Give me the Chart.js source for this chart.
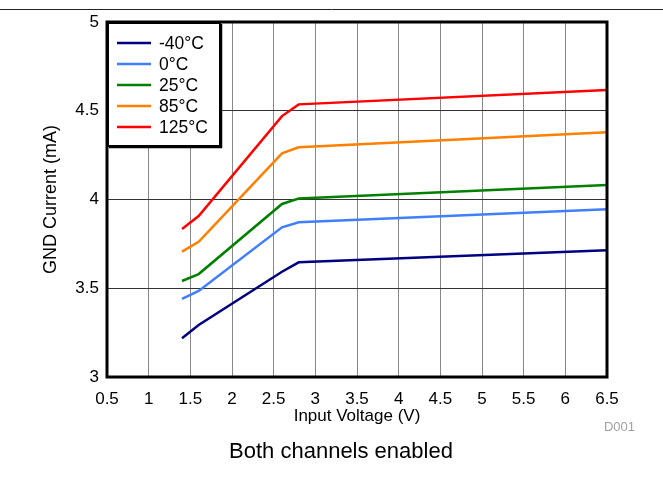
<!DOCTYPE html>
<html><head><meta charset="utf-8">
<script src="https://cdn.jsdelivr.net/npm/chart.js@4.4.1/dist/chart.umd.min.js"></script>
<style>html,body{margin:0;padding:0;background:#fff}#wrap{width:663px;height:489px;position:relative}</style>
</head><body><div id="wrap"><canvas id="c" width="663" height="489"></canvas></div>
<script>
const voltages = [1.4, 1.6, 2.6, 2.8, 6.5];
const seriesLabels = ['-40\u00B0C', '0\u00B0C', '25\u00B0C', '85\u00B0C', '125\u00B0C'];
const curM40 = [3.218, 3.293, 3.593, 3.646, 3.714];
const cur0 = [3.44, 3.485, 3.843, 3.872, 3.945];
const cur25 = [3.541, 3.58, 3.975, 4.005, 4.082];
const cur85 = [3.706, 3.762, 4.26, 4.294, 4.379];
const cur125 = [3.834, 3.907, 4.47, 4.536, 4.617];
const xTicks = [0.5, 1, 1.5, 2, 2.5, 3, 3.5, 4, 4.5, 5, 5.5, 6, 6.5];
const yTicks = [3, 3.5, 4, 4.5, 5];
const colors = ['#000080', '#3F7FFF', '#008000', '#FF7F00', '#FF0000'];
const allSeries = [curM40, cur0, cur25, cur85, cur125];

const FONT = "Arial, 'Liberation Sans', sans-serif";

const datasets = allSeries.map((s, i) => ({
  label: seriesLabels[i],
  data: voltages.map((v, j) => ({x: v, y: s[j]})),
  borderColor: colors[i],
  backgroundColor: colors[i],
  borderWidth: 2.5,
  pointRadius: 0,
  tension: 0,
  fill: false
}));

const deco = {
  id: 'deco',
  afterDraw(chart) {
    const ctx = chart.ctx;
    const a = chart.chartArea;
    ctx.save();
    // top rule
    ctx.strokeStyle = '#222';
    ctx.lineWidth = 1;
    ctx.beginPath(); ctx.moveTo(0, 9.5); ctx.lineTo(663, 9.5); ctx.stroke();
    // frame
    ctx.strokeStyle = '#000';
    ctx.lineWidth = 3;
    ctx.strokeRect(a.left, a.top, a.right - a.left, a.bottom - a.top);
    // legend box
    const lx = a.left, ly = a.top, lw = 113, lh = 124;
    ctx.fillStyle = '#fff';
    ctx.fillRect(lx, ly, lw, lh);
    ctx.lineWidth = 2;
    ctx.strokeStyle = '#000';
    ctx.strokeRect(lx + 1, ly + 1, lw - 1, lh - 1);
    ctx.lineWidth = 1.5;
    ctx.beginPath(); ctx.moveTo(lx + lw + 1.5, ly + 2); ctx.lineTo(lx + lw + 1.5, ly + lh + 1.5); ctx.lineTo(lx + 2, ly + lh + 1.5); ctx.stroke();
    ctx.font = '17.5px ' + FONT;
    ctx.textBaseline = 'middle';
    ctx.textAlign = 'left';
    seriesLabels.forEach((lab, i) => {
      const y = ly + 21 + i * 21;
      ctx.strokeStyle = colors[i];
      ctx.lineWidth = 2.5;
      ctx.beginPath(); ctx.moveTo(lx + 10, y); ctx.lineTo(lx + 44, y); ctx.stroke();
      ctx.fillStyle = '#000';
      ctx.fillText(lab, lx + 52, y + 1);
    });
    // D001
    ctx.fillStyle = '#a0a0a0';
    ctx.font = '13px ' + FONT;
    ctx.textAlign = 'right';
    ctx.fillText('D001', 635, 427);
    // caption
    ctx.fillStyle = '#000';
    ctx.font = '22px ' + FONT;
    ctx.textAlign = 'center';
    ctx.fillText('Both channels enabled', 341, 452);
    ctx.restore();
  }
};

const fmt = v => String(v);

new Chart(document.getElementById('c'), {
  type: 'line',
  data: { datasets },
  options: {
    responsive: false,
    animation: false,
    layout: { padding: { top: 22, right: 56, left: 40, bottom: 62 } },
    plugins: { legend: { display: false }, tooltip: { enabled: false } },
    scales: {
      x: {
        type: 'linear', min: 0.5, max: 6.5,
        afterBuildTicks(s) { s.ticks = xTicks.map(v => ({value: v})); },
        afterFit(s) { s.height = 50; },
        grid: { color: '#888', lineWidth: 1, drawTicks: false },
        border: { display: false },
        ticks: { color: '#000', font: { size: 17, family: FONT }, padding: 12, maxRotation: 0, autoSkip: false, callback: fmt },
        title: { display: true, text: 'Input Voltage (V)', color: '#000', font: { size: 17, family: FONT }, padding: { top: 0, bottom: 0 } }
      },
      y: {
        type: 'linear', min: 3, max: 5,
        afterBuildTicks(s) { s.ticks = yTicks.map(v => ({value: v})); },
        afterFit(s) { s.width = 67; },
        grid: { color: '#333', lineWidth: 1, drawTicks: false },
        border: { display: false },
        ticks: { color: '#000', font: { size: 17, family: FONT }, padding: 8, callback: fmt },
        title: { display: true, text: 'GND Current (mA)', color: '#000', font: { size: 18, family: FONT }, padding: { top: 0, bottom: 0 } }
      }
    }
  },
  plugins: [deco]
});
</script></body></html>
